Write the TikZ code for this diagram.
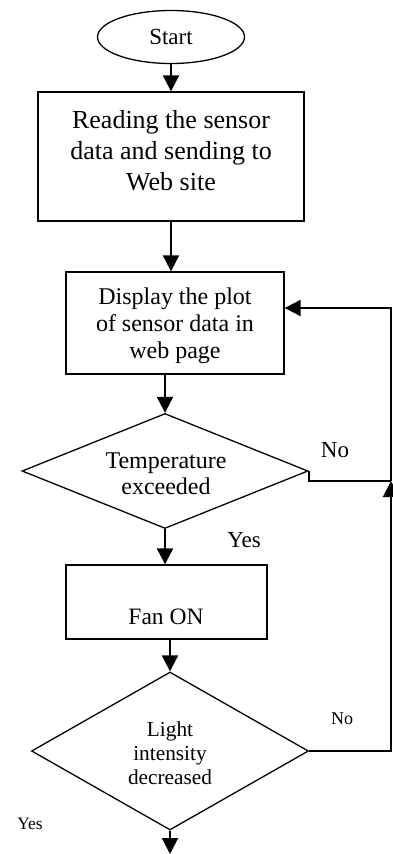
\documentclass[tikz,border=0pt]{standalone}
\usepackage{fontspec}
\setmainfont{Liberation Serif}
\usetikzlibrary{shapes.geometric,arrows.meta,calc}
\tikzset{
  boxshape/.style={draw,line width=1.3pt,rectangle,inner sep=0pt},
  decshape/.style={draw,line width=1.3pt,diamond,inner sep=0pt},
  lbl/.style={align=center,inner sep=0pt},
  flow/.style={line width=2pt,-{Triangle[length=16pt,width=16pt]}},
  plainline/.style={line width=2pt}
}
\begin{document}
\begin{tikzpicture}[x=1pt,y=-1pt]
\useasboundingbox (0,0) rectangle (393,854);
% Start
\node[draw,line width=1.3pt,ellipse,minimum width=147pt,minimum height=53pt,inner sep=0pt,
      font=\fontsize{23}{26}\selectfont] (start) at (171,37) {Start};
% Box 1
\node[boxshape,minimum width=266pt,minimum height=129pt] (box1) at (171,156.5) {};
\node[lbl,font=\fontsize{26}{31}\selectfont] (t1) at (171,151) {Reading the sensor\\data and sending to\\Web site};
% Box 2
\node[boxshape,minimum width=218pt,minimum height=102pt] (box2) at (175,323) {};
\node[lbl,font=\fontsize{24}{27}\selectfont] (t2) at (175,326) {Display the plot\\of sensor data in\\web page};
% Decision 1
\node[decshape,minimum width=286pt,minimum height=115pt] (d1) at (165,471) {};
\node[lbl,font=\fontsize{24}{26}\selectfont] (t3) at (166,474) {Temperature\\exceeded};
% Box 3
\node[boxshape,minimum width=201pt,minimum height=74pt] (box3) at (166.5,602) {};
\node[lbl,font=\fontsize{23.5}{26}\selectfont] (t4) at (166,617) {Fan ON};
% Decision 2
\node[decshape,minimum width=277pt,minimum height=158pt] (d2) at (170,751) {};
\node[lbl,font=\fontsize{21.3}{24}\selectfont] (t5) at (170,753) {Light\\intensity\\decreased};
% Labels
\node[lbl,font=\fontsize{23}{26}\selectfont] (no1) at (335,450) {No};
\node[lbl,font=\fontsize{23}{26}\selectfont] (yes1) at (244,540) {Yes};
\node[lbl,font=\fontsize{18}{20}\selectfont] (no2) at (342,719) {No};
\node[lbl,font=\fontsize{17.4}{20}\selectfont] (yes2) at (30,824) {Yes};
% Coordinates
\coordinate (loopx) at (391,481);
\coordinate (endpt) at (170,854);
% Connectors
\draw[flow] (start.south) -- (box1.north -| start.south);
\draw[flow] (box1.south -| start.south) -- (box2.north -| start.south);
\draw[flow] (d1.north |- box2.south) -- (d1.north);
\draw[flow] (d1.south) -- (box3.north -| d1.south);
\draw[flow] (d2.north |- box3.south) -- (d2.north);
\draw[flow] (d2.south) -- (endpt);
\draw[plainline] (d1.east) |- (loopx);
\draw[flow] (loopx) |- ([yshift=15pt]box2.east);
\draw[flow] (d2.east) -| (loopx);
\end{tikzpicture}
\end{document}
